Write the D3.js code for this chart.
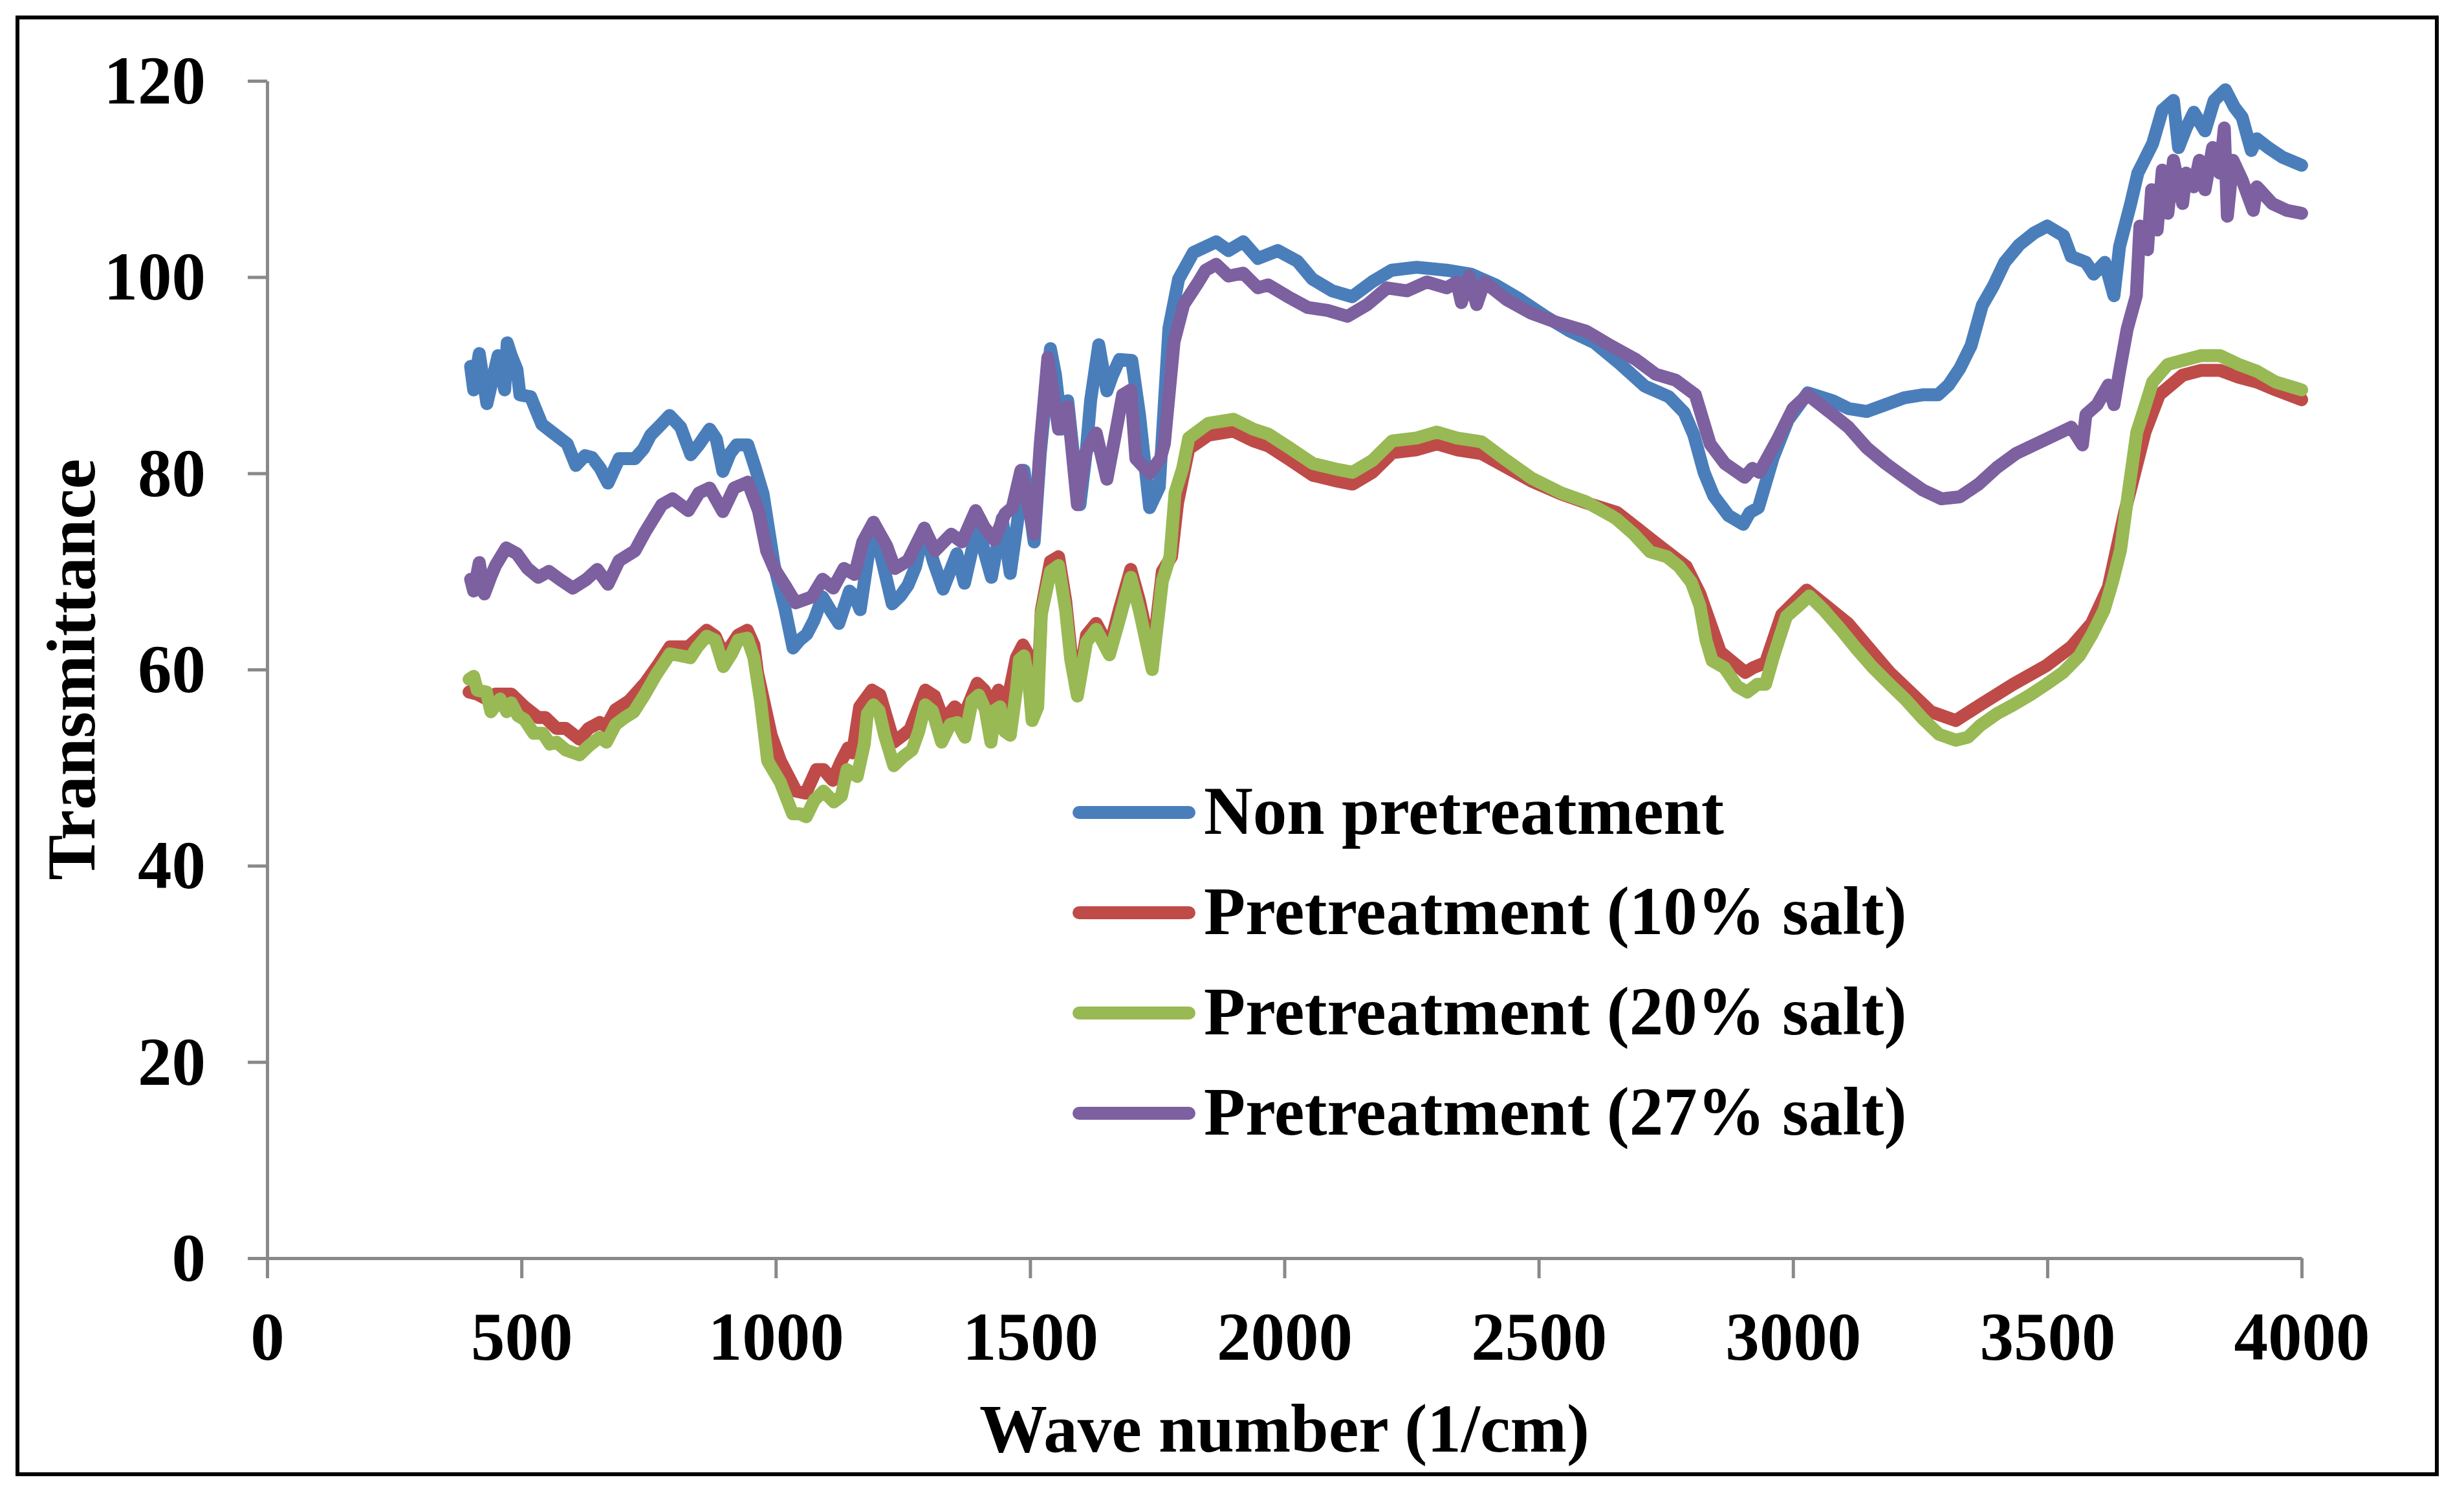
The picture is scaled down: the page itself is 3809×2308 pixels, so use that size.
<!DOCTYPE html>
<html>
<head>
<meta charset="utf-8">
<script src="https://cdn.jsdelivr.net/npm/d3@7"></script>
<style>
  html, body { margin: 0; padding: 0; background: #ffffff; }
  svg { display: block; }
  text { font-family: "Liberation Serif", "Times New Roman", serif; font-weight: bold; fill: #000; }
</style>
</head>
<body>
<svg id="chart" width="3809" height="2308"></svg>
<script>
// ---------------- DATA ----------------
const xTicks = [0, 500, 1000, 1500, 2000, 2500, 3000, 3500, 4000];
const yTicks = [0, 20, 40, 60, 80, 100, 120];
const xTitle = "Wave number (1/cm)";
const yTitle = "Transmittance";
const seriesNames = ["Non pretreatment", "Pretreatment (10% salt)", "Pretreatment (20% salt)", "Pretreatment (27% salt)"];
const seriesColors = ["#4A7EBB", "#BE4B48", "#98B954", "#7D60A0"];

// [wave number, transmittance]
const nonPretreatment = [
  [400,90.9],[406,88.5],[417,92.2],[432,87.1],[445,90],[454,92],[467,88.5],[472,93.3],[480,92],[491,90.6],[497,88],
  [518,87.8],[540,85],[560,84.2],[590,83],[607,80.8],[625,81.8],[639,81.6],[655,80.5],[670,79],[692,81.5],[723,81.5],
  [740,82.5],[754,83.9],[775,85],[791,85.9],[813,84.7],[833,81.9],[850,83],[870,84.5],[883,83.5],[896,80.2],[910,82],
  [923,82.9],[945,82.9],[960,80.5],[975,77.9],[997,70.6],[1018,66.2],[1034,62.2],[1047,63],[1061,63.6],[1075,65],
  [1092,67.4],[1108,66],[1124,64.7],[1145,68.0],[1155,67.5],[1166,66.1],[1180,71],[1192,75.0],[1205,72],[1229,66.7],
  [1245,67.5],[1260,68.6],[1275,70.5],[1292,74.4],[1310,71],[1329,68.2],[1356,71.8],[1371,68.8],[1385,72],[1398,75.0],
  [1410,72],[1424,69.4],[1445,75.4],[1461,69.8],[1475,75],[1488,80.3],[1500,76],[1508,73.0],[1520,82],[1540,92.7],
  [1550,90],[1562,84.5],[1574,87.4],[1585,82],[1598,76.8],[1610,82],[1619,87.4],[1635,93.1],[1651,88.4],[1662,90],
  [1676,91.6],[1700,91.5],[1715,86.0],[1735,76.5],[1754,78.6],[1773,94.8],[1792,99.8],[1821,102.5],[1866,103.6],
  [1890,102.7],[1919,103.6],[1948,101.9],[1987,102.7],[2026,101.6],[2055,99.8],[2094,98.6],[2133,98.0],[2172,99.5],
  [2211,100.7],[2260,101.0],[2319,100.7],[2367,100.3],[2415,99.2],[2464,97.7],[2513,96.0],[2561,94.5],[2610,93.3],
  [2659,91.2],[2708,88.9],[2756,87.8],[2786,86.2],[2805,83.9],[2825,80.1],[2844,77.7],[2873,75.7],[2902,74.8],
  [2915,76],[2932,76.5],[2961,81.6],[2990,85.4],[3029,88.2],[3078,87.4],[3109,86.6],[3145,86.3],[3182,87.0],
  [3219,87.7],[3255,88.0],[3285,88.0],[3306,89.0],[3328,90.7],[3350,93.0],[3372,97.1],[3394,99.1],[3416,101.5],
  [3445,103.3],[3474,104.5],[3500,105.2],[3532,104.2],[3547,102.1],[3576,101.5],[3591,100.3],[3613,101.5],[3631,98.1],
  [3642,103.1],[3664,107.5],[3678,110.6],[3707,113.6],[3726,117.0],[3748,118.0],[3758,113.2],[3773,115.2],[3788,116.8],
  [3810,114.9],[3828,118.0],[3850,119.1],[3868,117.3],[3883,116.3],[3901,112.9],[3912,114.1],[3934,113.2],[3963,112.2],
  [4000,111.4]
];

const salt10 = [
  [397,57.7],[413,57.5],[431,57],[449,57.5],[480,57.5],[506,56.2],[533,55.1],[547,55.1],[569,54.0],[587,54.0],
  [614,52.9],[632,54.0],[654,54.6],[667,54.2],[685,55.9],[712,56.8],[743,58.6],[769,60.5],[792,62.3],[828,62.3],
  [864,64.0],[881,63.4],[897,61.5],[913,62.5],[926,63.5],[944,64.0],[957,62.5],[964,59.7],[991,53.3],[1009,50.7],
  [1040,47.6],[1059,47.4],[1080,49.8],[1094,49.8],[1112,48.7],[1129,50.7],[1142,52.0],[1151,51.5],[1165,56.2],
  [1189,57.9],[1205,57.4],[1232,52.6],[1250,53.3],[1264,53.9],[1294,57.9],[1312,57.3],[1330,54.8],[1352,56.2],
  [1370,55.3],[1396,58.6],[1410,57.9],[1423,56.4],[1438,57.9],[1454,56.4],[1473,61.2],[1486,62.5],[1500,61.2],
  [1504,56],[1515,57.5],[1522,66],[1540,71],[1556,71.5],[1570,67],[1580,62],[1593,58],[1611,63.5],[1630,64.7],
  [1656,62.2],[1675,66],[1698,70.2],[1715,67],[1740,61],[1760,70],[1778,71.5],[1790,77],[1812,82.5],[1851,83.9],
  [1900,84.3],[1939,83.3],[1968,82.8],[2007,81.5],[2056,79.8],[2104,79.2],[2134,78.9],[2173,80.1],[2212,82.1],
  [2260,82.4],[2300,83.0],[2339,82.4],[2388,82.0],[2437,80.6],[2486,79.2],[2544,77.9],[2593,77.0],[2654,76.0],
  [2735,72.7],[2790,70.5],[2817,67.7],[2857,61.8],[2906,59.7],[2922,60.2],[2946,60.7],[2978,65.6],[3027,68.1],
  [3108,64.7],[3190,59.7],[3271,55.7],[3320,54.8],[3368,56.4],[3433,58.5],[3498,60.4],[3547,62.3],[3587,64.7],
  [3620,68.4],[3652,76.0],[3692,84.2],[3720,88],[3766,90],[3803,90.5],[3839,90.5],[3876,89.8],[3912,89.3],
  [3949,88.5],[4000,87.5]
];

const salt20 = [
  [397,59.0],[406,59.3],[413,57.9],[431,57.7],[440,55.7],[458,57.0],[471,55.7],[480,56.6],[493,55.3],[506,54.9],
  [524,53.5],[542,53.5],[556,52.4],[569,52.6],[587,51.8],[614,51.3],[632,52.2],[654,53.1],[667,52.6],[685,54.4],
  [703,55.1],[721,55.7],[743,57.5],[765,59.5],[792,61.6],[814,61.4],[832,61.2],[846,62.3],[864,63.4],[881,63.0],
  [897,60.3],[913,61.6],[926,63.0],[944,63.2],[957,61.2],[970,56.8],[984,50.7],[1009,48.5],[1033,45.3],[1047,45.3],
  [1060,45.0],[1076,46.7],[1094,47.6],[1114,46.5],[1129,47.1],[1140,49.8],[1160,49.1],[1174,52.4],[1180,55.5],
  [1192,56.4],[1203,55.8],[1214,53.3],[1232,50.2],[1250,51.1],[1268,51.8],[1281,53.7],[1294,56.4],[1308,55.8],
  [1326,52.6],[1343,54.4],[1357,54.6],[1372,53.1],[1386,56.8],[1399,57.4],[1412,55.9],[1423,52.6],[1432,55.9],
  [1441,56.2],[1450,53.7],[1461,53.3],[1473,57.9],[1479,61.0],[1488,61.4],[1497,59.0],[1504,54.8],[1515,56.2],
  [1522,65.6],[1540,70],[1556,70.6],[1570,66],[1580,61],[1593,57.3],[1611,62.8],[1630,64.1],[1656,61.5],[1675,65],
  [1698,69.4],[1715,66],[1740,60.0],[1760,69],[1775,71.5],[1785,78],[1800,80.5],[1812,83.6],[1851,85.1],[1900,85.5],
  [1939,84.5],[1968,84.0],[2007,82.7],[2056,81.0],[2104,80.4],[2134,80.1],[2173,81.3],[2212,83.3],[2260,83.6],
  [2300,84.2],[2339,83.6],[2388,83.2],[2437,81.3],[2486,79.5],[2544,78.0],[2593,77.1],[2642,75.7],[2654,75.3],
  [2687,73.8],[2719,72.0],[2752,71.5],[2776,70.5],[2800,68.9],[2817,66.5],[2829,63.0],[2841,60.9],[2865,60.2],
  [2890,58.3],[2910,57.7],[2930,58.5],[2946,58.5],[2962,61.4],[2987,65.4],[3011,66.5],[3032,67.5],[3060,66.1],
  [3092,64.2],[3125,62.1],[3157,60.2],[3190,58.5],[3222,56.9],[3255,55.0],[3287,53.4],[3320,52.8],[3344,53.1],
  [3368,54.3],[3401,55.5],[3433,56.4],[3466,57.4],[3498,58.5],[3531,59.7],[3563,61.4],[3587,63.5],[3612,66.1],
  [3628,68.9],[3644,72.2],[3660,78.3],[3676,84.2],[3689,86.3],[3707,89.3],[3737,91.1],[3766,91.5],[3803,92.0],
  [3839,92.0],[3876,91.1],[3912,90.4],[3949,89.3],[4000,88.5]
];

const salt27 = [
  [400,69.2],[406,68.0],[417,70.9],[427,67.7],[440,69.5],[449,70.6],[470,72.4],[491,71.8],[512,70.3],[533,69.4],
  [554,70.0],[575,69.2],[601,68.3],[628,69.2],[649,70.2],[670,68.7],[692,71.1],[723,72.1],[744,74.1],[776,76.8],
  [797,77.4],[828,76.2],[849,78.0],[870,78.5],[896,76.1],[918,78.5],[945,79.1],[966,76.2],[982,72.1],[997,70.3],
  [1018,68.6],[1039,66.8],[1071,67.4],[1092,69.2],[1113,68.3],[1134,70.3],[1155,69.7],[1171,73.0],[1192,75.0],
  [1218,72.6],[1234,70.3],[1260,71.1],[1292,74.4],[1313,72.1],[1345,73.8],[1366,73.0],[1393,76.2],[1410,74.5],
  [1430,73.2],[1451,75.9],[1465,76.5],[1482,80.3],[1495,77],[1508,73.8],[1520,83],[1535,91.8],[1556,84.5],
  [1574,86.8],[1593,76.8],[1609,82.1],[1630,84.1],[1651,79.4],[1666,83.5],[1682,88.0],[1698,88.5],[1708,81.5],
  [1735,80],[1756,81.5],[1764,83.0],[1783,93.4],[1802,97.2],[1831,99.5],[1845,100.7],[1866,101.3],[1890,100.1],
  [1919,100.4],[1948,98.9],[1968,99.2],[2007,98.0],[2046,96.9],[2085,96.6],[2124,96.0],[2163,97.2],[2202,98.9],
  [2241,98.6],[2280,99.5],[2319,98.9],[2339,99.5],[2348,97.4],[2363,100.1],[2378,97.2],[2393,99.5],[2437,97.7],
  [2486,96.3],[2534,95.4],[2593,94.5],[2642,93.0],[2691,91.6],[2730,90.1],[2769,89.5],[2808,88.0],[2837,83.0],
  [2866,81.0],[2905,79.6],[2920,80.5],[2934,80.1],[2971,83.6],[3000,86.6],[3029,88.0],[3078,86.0],[3109,84.7],
  [3145,82.6],[3182,81.0],[3219,79.6],[3255,78.3],[3292,77.4],[3328,77.6],[3365,78.9],[3401,80.6],[3438,82.0],
  [3474,82.9],[3511,83.8],[3547,84.7],[3569,82.9],[3576,86.0],[3598,87.0],[3620,89.0],[3631,87.0],[3642,90.4],
  [3657,94.7],[3675,98.1],[3682,105.2],[3697,102.8],[3705,108.9],[3716,104.8],[3726,110.9],[3737,106.5],[3748,111.9],
  [3766,107.5],[3773,110.6],[3788,109.2],[3799,111.9],[3810,108.9],[3825,113.2],[3839,110.6],[3848,115.2],
  [3854,106.2],[3865,111.9],[3883,109.9],[3905,106.8],[3912,109.2],[3942,107.5],[3971,106.8],[4000,106.5]
];

const allSeries = [nonPretreatment, salt10, salt20, salt27];

// ---------------- LAYOUT ----------------
const svg = d3.select("#chart");
const W = 3809, H = 2308;
const plot = { left: 413, right: 3558, top: 125, bottom: 1945 };
const FONT = 105;

svg.append("rect").attr("x", 0).attr("y", 0).attr("width", W).attr("height", H).attr("fill", "#fff");
// outer frame
svg.append("rect")
  .attr("x", 27).attr("y", 27).attr("width", 3740).attr("height", 2252)
  .attr("fill", "none").attr("stroke", "#000").attr("stroke-width", 6);

const x = d3.scaleLinear().domain([0, 4000]).range([plot.left, plot.right]);
const y = d3.scaleLinear().domain([0, 120]).range([plot.bottom, plot.top]);

const axisColor = "#898989";

// Y axis
const gy = svg.append("g").attr("transform", `translate(${plot.left},0)`)
  .call(d3.axisLeft(y).tickValues(yTicks).tickSizeInner(30).tickSizeOuter(0).tickPadding(65).tickFormat(d3.format("d")));
gy.select(".domain").attr("stroke", axisColor).attr("stroke-width", 5);
gy.selectAll(".tick line").attr("stroke", axisColor).attr("stroke-width", 5);
gy.selectAll(".tick text").attr("font-size", FONT).attr("dy", "0.33em")
  .attr("font-family", '"Liberation Serif", "Times New Roman", serif').attr("font-weight", "bold").attr("fill", "#000");

// X axis
const gx = svg.append("g").attr("transform", `translate(0,${plot.bottom})`)
  .call(d3.axisBottom(x).tickValues(xTicks).tickSizeInner(31).tickSizeOuter(0).tickFormat(d3.format("d")));
gx.select(".domain").attr("stroke", axisColor).attr("stroke-width", 5);
gx.selectAll(".tick line").attr("stroke", axisColor).attr("stroke-width", 5);
gx.selectAll(".tick text").attr("font-size", FONT).attr("y", 157).attr("dy", 0)
  .attr("font-family", '"Liberation Serif", "Times New Roman", serif').attr("font-weight", "bold").attr("fill", "#000");

// axis titles
svg.append("text")
  .attr("x", (plot.left + plot.right) / 2).attr("y", 2244)
  .attr("text-anchor", "middle").attr("font-size", FONT)
  .text(xTitle);
svg.append("text")
  .attr("transform", `translate(146,${(plot.top + plot.bottom) / 2}) rotate(-90)`)
  .attr("text-anchor", "middle").attr("font-size", FONT)
  .text(yTitle);

// series lines
const line = d3.line().x(d => x(d[0])).y(d => y(d[1]));
allSeries.forEach((s, i) => {
  svg.append("path")
    .attr("d", line(s))
    .attr("fill", "none")
    .attr("stroke", seriesColors[i])
    .attr("stroke-width", 20)
    .attr("stroke-linejoin", "round")
    .attr("stroke-linecap", "round");
});

// legend
const legendY0 = 1256, legendStep = 155;
seriesNames.forEach((name, i) => {
  const ly = legendY0 + i * legendStep;
  svg.append("line")
    .attr("x1", 1668).attr("x2", 1838).attr("y1", ly).attr("y2", ly)
    .attr("stroke", seriesColors[i]).attr("stroke-width", 20).attr("stroke-linecap", "round");
  svg.append("text")
    .attr("x", 1861).attr("y", ly + 33)
    .attr("font-size", FONT)
    .text(name);
});
</script>
</body>
</html>
